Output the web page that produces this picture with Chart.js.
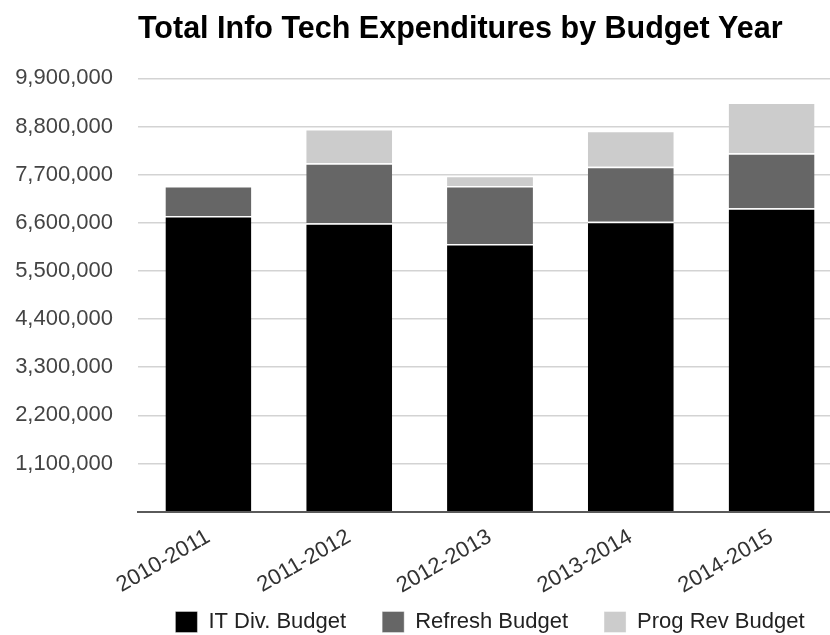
<!DOCTYPE html>
<html>
<head>
<meta charset="utf-8">
<script src="https://cdn.jsdelivr.net/npm/chart.js@4/dist/chart.umd.min.js"></script>
<style>
  html, body { margin: 0; padding: 0; background: #fff; overflow: hidden; }
  #wrap { width: 850px; height: 635px; position: relative; }
</style>
</head>
<body>
<div id="wrap"><canvas id="chart"></canvas></div>
<script>
// Budget years along the x axis
const budgetYears = ['2010-2011', '2011-2012', '2012-2013', '2013-2014', '2014-2015'];

// Stacked spending components (dollars)
const itDivBudget   = [6755000, 6590000, 6115000, 6625000, 6930000];
const refreshBudget = [685000, 1370000, 1325000, 1255000, 1260000];
const progRevBudget = [0, 780000, 235000, 820000, 1160000];

// Value axis ticks
const yStep = 1100000;
const yTop = 9900000;

const FONT = '"Liberation Sans", Arial, Helvetica, sans-serif';

const segBorder = { top: 1.5, left: 0, right: 0, bottom: 0 };

new Chart(document.getElementById('chart'), {
  type: 'bar',
  data: {
    labels: budgetYears,
    datasets: [
      { label: 'IT Div. Budget', data: itDivBudget, backgroundColor: '#000000',
        borderColor: '#ffffff', borderWidth: segBorder, borderSkipped: false },
      { label: 'Refresh Budget', data: refreshBudget, backgroundColor: '#666666',
        borderColor: '#ffffff', borderWidth: segBorder, borderSkipped: false },
      { label: 'Prog Rev Budget', data: progRevBudget, backgroundColor: '#cccccc',
        borderColor: '#ffffff', borderWidth: segBorder, borderSkipped: false }
    ]
  },
  options: {
    responsive: true,
    maintainAspectRatio: false,
    animation: false,
    datasets: { bar: { barPercentage: 0.61, categoryPercentage: 1 } },
    layout: { padding: { left: 0, right: 8, top: 0, bottom: -8 } },
    scales: {
      x: {
        stacked: true,
        z: 1,
        // year labels hang below the axis and may reach into the legend's top margin
        afterFit: (scale) => { scale.height = 63.3; },
        grid: { display: false, drawTicks: false },
        border: { display: true, color: '#5a5a5a', width: 2 },
        ticks: {
          minRotation: 30, maxRotation: 30,
          mirror: true, padding: -35, labelOffset: 13,
          color: '#333333',
          font: { family: FONT, size: 22 }
        }
      },
      y: {
        stacked: true,
        min: 0,
        max: yTop,
        afterFit: (scale) => { scale.width = 138; },
        grid: {
          drawTicks: false,
          lineWidth: 1.5,
          color: (ctx) => (ctx.tick && ctx.tick.value === 0) ? 'rgba(0,0,0,0)' : '#d3d3d3'
        },
        border: { display: false },
        ticks: {
          stepSize: yStep,
          padding: 25,
          color: '#444444',
          font: { family: FONT, size: 22 },
          callback: (v) => v === 0 ? '' : Number(v).toLocaleString('en-US')
        }
      }
    },
    plugins: {
      title: {
        display: true,
        text: 'Total Info Tech Expenditures by Budget Year',
        align: 'start',
        fullSize: false,
        color: '#000000',
        font: { family: FONT, size: 30.5, weight: 'bold' },
        padding: { top: 11, bottom: 30.7 }
      },
      legend: {
        position: 'bottom',
        fullSize: false,
        labels: {
          boxWidth: 22,
          boxHeight: 21,
          padding: 36,
          color: '#222222',
          font: { family: FONT, size: 22 }
        }
      },
      tooltip: { enabled: false }
    }
  }
});
</script>
</body>
</html>
